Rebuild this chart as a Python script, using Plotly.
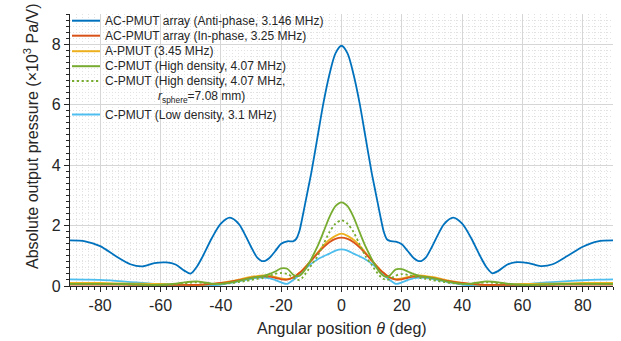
import plotly.graph_objects as go

# Angular positions (deg)
theta = [-90, -85, -80, -75, -70, -66, -62, -58, -55, -52, -50, -48, -46, -43, -40, -37,
         -34, -32, -30, -28, -26, -24, -22, -20, -18, -16, -15, -14, -13, -12, -11, -10,
         -8, -6, -4, -2, 0, 2, 4, 6, 8, 10, 11, 12, 13, 14, 15, 16, 18, 20, 22, 24, 26,
         28, 30, 32, 34, 37, 40, 43, 46, 48, 50, 52, 55, 58, 62, 66, 70, 75, 80, 85, 90]

# Absolute output pressure (x10^3 Pa/V)
ac_anti = [1.51, 1.48, 1.32, 1.0, 0.72, 0.65, 0.76, 0.78, 0.71, 0.5, 0.41, 0.63, 0.98, 1.58,
           2.06, 2.26, 2.05, 1.7, 1.3, 0.95, 0.82, 0.92, 1.15, 1.4, 1.48, 1.48, 1.56, 1.8,
           2.25, 2.75, 3.25, 3.75, 4.9, 6.05, 7.0, 7.7, 7.95,
           7.7, 7.0, 6.05, 4.9, 3.75, 3.25, 2.75, 2.25, 1.8, 1.55, 1.49, 1.47, 1.38, 1.15,
           0.92, 0.82, 0.95, 1.3, 1.7, 2.05, 2.26, 2.06, 1.58, 0.98, 0.63, 0.42, 0.5, 0.71,
           0.79, 0.76, 0.66, 0.72, 1.0, 1.3, 1.48, 1.51]
ac_in = [0.05, 0.05, 0.05, 0.05, 0.04, 0.04, 0.04, 0.04, 0.04, 0.04, 0.04, 0.04, 0.05, 0.07,
         0.1, 0.14, 0.19, 0.23, 0.27, 0.3, 0.32, 0.31, 0.27, 0.22, 0.21, 0.28, 0.35, 0.43,
         0.52, 0.62, 0.73, 0.84, 1.07, 1.28, 1.45, 1.56, 1.6,
         1.56, 1.45, 1.28, 1.07, 0.84, 0.73, 0.62, 0.52, 0.43, 0.35, 0.28, 0.21, 0.22, 0.27,
         0.31, 0.32, 0.3, 0.27, 0.23, 0.19, 0.14, 0.1, 0.07, 0.05, 0.04, 0.04, 0.04, 0.04,
         0.04, 0.04, 0.04, 0.04, 0.05, 0.05, 0.05, 0.05]
a_pmut = [0.1, 0.1, 0.1, 0.09, 0.08, 0.08, 0.07, 0.06, 0.05, 0.04, 0.03, 0.03, 0.04, 0.06,
          0.1, 0.15, 0.21, 0.26, 0.3, 0.33, 0.35, 0.34, 0.3, 0.25, 0.23, 0.29, 0.35, 0.43,
          0.52, 0.63, 0.74, 0.86, 1.1, 1.34, 1.53, 1.66, 1.73,
          1.66, 1.53, 1.34, 1.1, 0.86, 0.74, 0.63, 0.52, 0.43, 0.35, 0.29, 0.23, 0.25, 0.3,
          0.34, 0.35, 0.33, 0.3, 0.26, 0.21, 0.15, 0.1, 0.06, 0.04, 0.03, 0.03, 0.04, 0.05,
          0.06, 0.07, 0.08, 0.08, 0.09, 0.1, 0.1, 0.1]
c_high = [0.07, 0.07, 0.07, 0.07, 0.06, 0.05, 0.04, 0.05, 0.08, 0.12, 0.14, 0.15, 0.13, 0.08,
          0.07, 0.11, 0.17, 0.22, 0.26, 0.3, 0.33, 0.39, 0.48, 0.58, 0.57, 0.37, 0.33, 0.33,
          0.42, 0.55, 0.72, 0.9, 1.3, 1.78, 2.28, 2.64, 2.77,
          2.64, 2.28, 1.78, 1.3, 0.9, 0.72, 0.55, 0.42, 0.33, 0.3, 0.35, 0.55, 0.56, 0.48,
          0.39, 0.33, 0.3, 0.26, 0.22, 0.17, 0.11, 0.07, 0.08, 0.13, 0.15, 0.14, 0.12, 0.08,
          0.05, 0.04, 0.05, 0.06, 0.07, 0.07, 0.07, 0.07]
c_high_sphere = [0.06, 0.06, 0.06, 0.06, 0.05, 0.04, 0.03, 0.04, 0.06, 0.09, 0.11, 0.12, 0.1,
                 0.07, 0.07, 0.09, 0.13, 0.16, 0.2, 0.24, 0.27, 0.33, 0.4, 0.43, 0.4, 0.28,
                 0.22, 0.2, 0.27, 0.4, 0.54, 0.69, 0.98, 1.38, 1.78, 2.06, 2.17,
                 2.06, 1.78, 1.38, 0.98, 0.7, 0.55, 0.42, 0.3, 0.23, 0.2, 0.23, 0.34, 0.39,
                 0.37, 0.32, 0.27, 0.24, 0.2, 0.16, 0.13, 0.09, 0.07, 0.07, 0.1, 0.12, 0.11,
                 0.09, 0.06, 0.04, 0.03, 0.04, 0.05, 0.06, 0.06, 0.06, 0.06]
c_low = [0.22, 0.21, 0.2, 0.17, 0.13, 0.1, 0.07, 0.05, 0.04, 0.03, 0.02, 0.02, 0.02, 0.03,
         0.05, 0.1, 0.16, 0.2, 0.24, 0.27, 0.28, 0.26, 0.2, 0.12, 0.07, 0.2, 0.28, 0.37,
         0.47, 0.57, 0.66, 0.74, 0.88, 0.98, 1.07, 1.17, 1.21,
         1.17, 1.07, 0.98, 0.88, 0.74, 0.66, 0.57, 0.47, 0.37, 0.28, 0.2, 0.07, 0.12, 0.2,
         0.26, 0.28, 0.27, 0.24, 0.2, 0.16, 0.1, 0.05, 0.03, 0.02, 0.02, 0.02, 0.03, 0.04,
         0.05, 0.07, 0.1, 0.13, 0.16, 0.19, 0.21, 0.22]

x_tick_vals = [-80, -60, -40, -20, 0, 20, 40, 60, 80]
x_tick_text = ["-80", "-60", "-40", "-20", "0", "20", "40", "60", "80"]
y_tick_vals = [0, 2, 4, 6, 8]
y_tick_text = ["0", "2", "4", "6", "8"]

series = [
    ("AC-PMUT array (Anti-phase, 3.146 MHz)", ac_anti, "#0072BD", "solid"),
    ("AC-PMUT array (In-phase, 3.25 MHz)", ac_in, "#D95319", "solid"),
    ("A-PMUT (3.45 MHz)", a_pmut, "#EDB120", "solid"),
    ("C-PMUT (High density, 4.07 MHz)", c_high, "#77AC30", "solid"),
    ("C-PMUT (High density, 4.07 MHz,", c_high_sphere, "#77AC30", "2.2px,2.6px"),
    ("C-PMUT (Low density, 3.1 MHz)", c_low, "#4DBEEE", "solid"),
]
# draw order: background curves first, anti-phase array on top of them
draw_order = [5, 2, 1, 4, 3, 0]

FONT = "Liberation Sans, Arial, sans-serif"
INK = "#262626"

fig = go.Figure()
for i in draw_order:
    name, vals, color, dash = series[i]
    fig.add_trace(go.Scatter(
        x=theta, y=vals, mode="lines", name=name, showlegend=False,
        line=dict(color=color, width=1.8, dash=dash, shape="spline", smoothing=0.8),
    ))

# plot-area geometry (pixels) used to place the hand-built legend and titles
W, H = 621, 341
ML, MR, MT, MB = 70, 8, 14, 55
PW, PH = W - ML - MR, H - MT - MB


def px_x(p):
    return (p - ML) / PW


def px_y(p):
    return (H - MB - p) / PH


shapes = []
annotations = []
legend_rows = [20.7, 35.7, 51.2, 66.2, 81.0, 114.5]
for (name, _, color, dash), row in zip(series, legend_rows):
    shapes.append(dict(type="line", xref="paper", yref="paper",
                       x0=px_x(72), x1=px_x(100), y0=px_y(row), y1=px_y(row),
                       line=dict(color=color, width=2, dash=dash)))
    annotations.append(dict(text=name, xref="paper", yref="paper",
                            x=px_x(103), y=px_y(row), xanchor="left", yanchor="middle",
                            showarrow=False, font=dict(family=FONT, size=12, color=INK)))
annotations.append(dict(text="<i>r</i><sub>sphere</sub>=7.08 mm)", xref="paper", yref="paper",
                        x=px_x(156), y=px_y(96.5), xanchor="left", yanchor="middle",
                        showarrow=False, font=dict(family=FONT, size=12, color=INK)))

# axis titles
annotations.append(dict(text="Angular position <i>θ</i> (deg)", xref="paper", yref="paper",
                        x=0.5, y=px_y(328), xanchor="center", yanchor="middle",
                        showarrow=False, font=dict(family=FONT, size=16, color=INK)))
annotations.append(dict(text="Absolute output pressure (×10<sup>3</sup> Pa/V)",
                        xref="paper", yref="paper", textangle=-90,
                        x=px_x(31), y=px_y(136), xanchor="center", yanchor="middle",
                        showarrow=False, font=dict(family=FONT, size=16, color=INK)))

axis_common = dict(
    showline=True, linecolor=INK, linewidth=1.2, mirror=False,
    ticks="outside", ticklen=5, tickwidth=1.1, tickcolor=INK,
    showgrid=True, gridcolor="#d6d6d6", gridwidth=1,
    zeroline=False, tickfont=dict(family=FONT, size=16, color=INK),
)
minor_common = dict(ticks="outside", ticklen=3, tickcolor=INK, showgrid=True,
                    gridcolor="#e2e2e2", griddash="1px,2px")

fig.update_xaxes(
    range=[-90, 90], tickmode="array", tickvals=x_tick_vals, ticktext=x_tick_text,
    minor=dict(tickmode="linear", tick0=0, dtick=2, **minor_common),
    **axis_common,
)
fig.update_yaxes(
    range=[0, 9], tickmode="array", tickvals=y_tick_vals, ticktext=y_tick_text,
    minor=dict(tickmode="linear", tick0=0, dtick=0.2, **minor_common),
    **axis_common,
)

fig.update_layout(
    width=W, height=H,
    margin=dict(l=ML, r=MR, t=MT, b=MB),
    paper_bgcolor="white", plot_bgcolor="white",
    shapes=shapes, annotations=annotations,
    showlegend=False,
)

fig.write_html("out.html")
